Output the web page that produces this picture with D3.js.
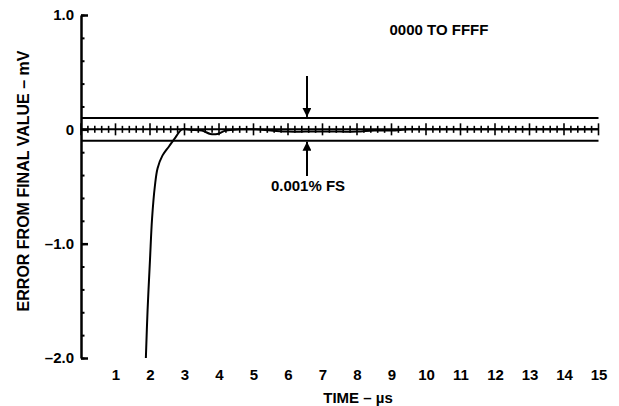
<!DOCTYPE html>
<html>
<head>
<meta charset="utf-8">
<script src="https://cdn.jsdelivr.net/npm/d3@7"></script>
<style>
  body { margin: 0; background: #fff; }
  svg text { font-family: "Liberation Sans", Arial, sans-serif; font-weight: bold; fill: #000; }
</style>
</head>
<body>
<div id="chart"></div>
<script>
// settling error data
var timeUs = [1.88, 1.93, 2.0, 2.06, 2.14, 2.22, 2.36, 2.55, 2.74, 2.93, 3.2, 3.5, 3.75, 3.95, 4.2, 4.6, 5.0, 5.5, 6.0, 6.5, 7.0, 7.5, 8.0, 8.5, 9.0, 9.5, 10, 11, 12, 13, 14, 15];
var errorMv = [-2.0, -1.58, -1.14, -0.78, -0.50, -0.34, -0.23, -0.15, -0.07, 0.0, -0.005, -0.01, -0.04, -0.04, -0.01, 0.0, 0.0, -0.01, -0.02, -0.02, -0.02, -0.02, -0.02, -0.01, -0.01, 0.0, 0.0, 0.0, 0.0, 0.0, 0.0, 0.0];
var xTickLabels = [1, 2, 3, 4, 5, 6, 7, 8, 9, 10, 11, 12, 13, 14, 15];
var yTickLabels = [1.0, 0, -1.0, -2.0];
var errorBand = [0.1, -0.1];

var width = 619, height = 406;

var svg = d3.select("#chart").append("svg")
    .attr("width", width)
    .attr("height", height);

var x = d3.scaleLinear().domain([0, 15]).range([81, 598.5]);
var y = d3.scaleLinear().domain([-2, 1]).range([358, 15]);

// y axis: minor ticks every 0.2
var yMinor = d3.axisLeft(y)
    .tickValues(d3.range(-2, 1.001, 0.2))
    .tickSizeInner(-3.5)
    .tickSizeOuter(0)
    .tickFormat("");
svg.append("g")
    .attr("transform", "translate(" + x(0) + ",0)")
    .call(yMinor)
    .call(function(g) { g.selectAll("line").attr("stroke-width", 2); g.select(".domain").remove(); });

var yMajor = d3.axisLeft(y)
    .tickValues(yTickLabels)
    .tickSizeInner(-7)
    .tickSizeOuter(0)
    .tickPadding(7)
    .tickFormat(function(d) { return d === 0 ? "0" : (d < 0 ? "\u2013" : "") + Math.abs(d).toFixed(1); });
svg.append("g")
    .attr("transform", "translate(" + x(0) + ",0)")
    .call(yMajor)
    .call(function(g) {
        g.select(".domain").attr("stroke-width", 2.5);
        g.selectAll("line").attr("stroke-width", 2.5);
        g.selectAll("text").style("font-size", "15px");
    });

// x tick labels only
var xAxis = d3.axisBottom(x)
    .tickValues(xTickLabels)
    .tickSize(0)
    .tickPadding(3)
    .tickFormat(d3.format("d"));
svg.append("g")
    .attr("transform", "translate(0,366)")
    .call(xAxis)
    .call(function(g) {
        g.select(".domain").remove();
        g.selectAll("text").style("font-size", "15px");
    });

// error band lines
svg.selectAll(".band")
    .data(errorBand)
    .enter().append("line")
    .attr("class", "band")
    .attr("x1", x(0))
    .attr("x2", x(15))
    .attr("y1", function(d) { return y(d); })
    .attr("y2", function(d) { return y(d); })
    .attr("stroke", "#000")
    .attr("stroke-width", 2);

// zero line with ruler ticks
svg.append("line")
    .attr("x1", x(0)).attr("x2", x(15))
    .attr("y1", y(0)).attr("y2", y(0))
    .attr("stroke", "#000").attr("stroke-width", 2);

var rulerTicks = d3.range(0, 75.5, 1).map(function(i) { return i / 5; });
function isWhole(d) { return Math.abs(d - Math.round(d)) < 1e-6; }
svg.selectAll(".ruler")
    .data(rulerTicks)
    .enter().append("line")
    .attr("class", "ruler")
    .attr("x1", function(d) { return x(d); })
    .attr("x2", function(d) { return x(d); })
    .attr("y1", function(d) { return y(0) - (isWhole(d) ? 6 : 3.5); })
    .attr("y2", function(d) { return y(0) + (isWhole(d) ? 6 : 3.5); })
    .attr("stroke", "#000")
    .attr("stroke-width", 1.6);

// settling curve
var pts = timeUs.map(function(t, i) { return [t, errorMv[i]]; });
var line = d3.line()
    .x(function(d) { return x(d[0]); })
    .y(function(d) { return y(d[1]); })
    .curve(d3.curveCatmullRom);
svg.append("path")
    .datum(pts)
    .attr("d", line)
    .attr("fill", "none")
    .attr("stroke", "#000")
    .attr("stroke-width", 2);

// arrows marking the band
var defs = svg.append("defs");
defs.append("marker")
    .attr("id", "arrowHead")
    .attr("viewBox", "0 0 10 10")
    .attr("refX", 10).attr("refY", 5)
    .attr("markerWidth", 5).attr("markerHeight", 4.5)
    .attr("markerUnits", "strokeWidth")
    .attr("orient", "auto")
    .append("path")
    .attr("d", "M0,0 L10,5 L0,10 Z")
    .attr("fill", "#000");

var arrowX = x(6.55);
svg.append("line")
    .attr("x1", arrowX).attr("x2", arrowX)
    .attr("y1", 76).attr("y2", y(0.1) - 1)
    .attr("stroke", "#000").attr("stroke-width", 2)
    .attr("marker-end", "url(#arrowHead)");
svg.append("line")
    .attr("x1", arrowX).attr("x2", arrowX)
    .attr("y1", 176).attr("y2", y(-0.1) + 1)
    .attr("stroke", "#000").attr("stroke-width", 2)
    .attr("marker-end", "url(#arrowHead)");

// annotations
svg.append("text")
    .attr("x", 308).attr("y", 191)
    .attr("text-anchor", "middle")
    .style("font-size", "15px")
    .text("0.001% FS");

svg.append("text")
    .attr("x", 439).attr("y", 35)
    .attr("text-anchor", "middle")
    .style("font-size", "15px")
    .text("0000 TO FFFF");

// axis titles
svg.append("text")
    .attr("transform", "translate(29,181) rotate(-90)")
    .attr("text-anchor", "middle")
    .style("font-size", "16px")
    .text("ERROR FROM FINAL VALUE \u2013 mV");

svg.append("text")
    .attr("x", 358).attr("y", 403)
    .attr("text-anchor", "middle")
    .style("font-size", "15px")
    .text("TIME \u2013 \u00b5s");
</script>
</body>
</html>
